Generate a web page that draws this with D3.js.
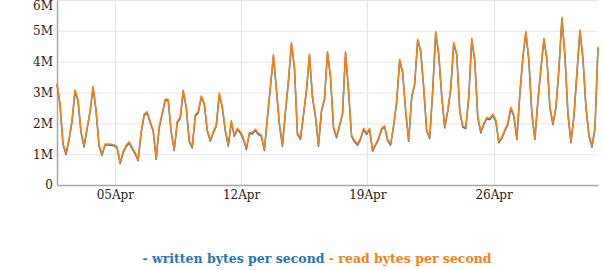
<!DOCTYPE html>
<html>
<head>
<meta charset="utf-8">
<script src="https://cdn.jsdelivr.net/npm/d3@7"></script>
<style>
  body { margin: 0; background: #fff; }
  svg { display: block; }
  .tick text { font-family: "DejaVu Serif", serif; font-size: 12px; fill: #222; }
</style>
</head>
<body>
<svg id="chart" width="603" height="270"></svg>
<script>
// 4-hourly samples, Apr 1 19:00 -> May 1 19:00, values in MB/s
const startTime = new Date(2024, 3, 1, 19);
const stepHours = 4;

const readBytes = [
  3.30, 2.65, 1.35, 1.03, 1.50, 2.10, 3.08, 2.76, 1.73, 1.27, 1.85, 2.40, 3.20, 2.43, 1.30, 1.00,
  1.33, 1.33, 1.32, 1.30, 1.24, 0.73, 1.08, 1.28, 1.40, 1.22, 1.05, 0.83, 1.73, 2.30, 2.38, 2.06,
  1.79, 0.87, 1.90, 2.33, 2.78, 2.78, 1.73, 1.16, 2.06, 2.20, 3.08, 2.54, 1.44, 1.24, 2.27, 2.38,
  2.89, 2.65, 1.79, 1.46, 1.73, 1.95, 2.98, 2.54, 1.79, 1.30, 2.09, 1.62, 1.84, 1.73, 1.52, 1.19,
  1.70, 1.70, 1.81, 1.68, 1.62, 1.16, 2.22, 3.20, 4.22, 3.14, 2.00, 1.30, 2.40, 3.40, 4.62, 3.84,
  1.68, 1.52, 2.30, 3.10, 4.25, 2.87, 2.24, 1.30, 2.43, 2.81, 4.33, 3.52, 1.89, 1.57, 1.95, 2.33,
  4.33, 3.08, 1.62, 1.44, 1.33, 1.52, 1.84, 1.68, 1.84, 1.14, 1.33, 1.52, 1.84, 1.92, 1.48, 1.33,
  1.95, 2.71, 4.08, 3.68, 2.44, 1.46, 2.87, 3.30, 4.73, 4.38, 3.19, 1.79, 1.55, 3.08, 4.98, 4.27,
  2.92, 1.89, 2.43, 3.14, 4.62, 4.27, 2.43, 1.92, 1.87, 2.87, 4.76, 4.06, 2.22, 1.73, 2.00, 2.19,
  2.16, 2.30, 2.11, 1.41, 1.55, 1.79, 2.00, 2.52, 2.27, 1.52, 2.98, 4.17, 4.98, 4.06, 2.33, 1.52,
  2.76, 3.79, 4.76, 4.11, 2.54, 2.00, 2.54, 3.79, 5.44, 4.22, 2.33, 1.41, 2.27, 3.68, 5.03, 4.11,
  2.54, 1.62, 1.27, 1.89, 4.49
];

const writtenBytes = [
  3.26, 2.60, 1.31, 0.99, 1.46, 2.05, 3.04, 2.72, 1.69, 1.23, 1.81, 2.36, 3.16, 2.39, 1.26, 0.96,
  1.30, 1.30, 1.29, 1.27, 1.20, 0.69, 1.04, 1.24, 1.36, 1.18, 1.01, 0.79, 1.68, 2.25, 2.34, 2.02,
  1.75, 0.83, 1.85, 2.28, 2.74, 2.74, 1.69, 1.12, 2.01, 2.16, 3.03, 2.50, 1.40, 1.20, 2.22, 2.34,
  2.85, 2.61, 1.75, 1.42, 1.69, 1.91, 2.93, 2.50, 1.75, 1.26, 2.04, 1.58, 1.80, 1.69, 1.48, 1.15,
  1.66, 1.66, 1.77, 1.64, 1.58, 1.12, 2.17, 3.15, 4.17, 3.10, 1.96, 1.26, 2.35, 3.35, 4.57, 3.80,
  1.64, 1.48, 2.25, 3.05, 4.20, 2.83, 2.20, 1.26, 2.38, 2.77, 4.28, 3.48, 1.85, 1.53, 1.91, 2.29,
  4.28, 3.04, 1.58, 1.40, 1.29, 1.48, 1.80, 1.64, 1.80, 1.10, 1.29, 1.48, 1.80, 1.88, 1.44, 1.29,
  1.91, 2.66, 4.03, 3.64, 2.40, 1.42, 2.82, 3.25, 4.68, 4.34, 3.15, 1.75, 1.51, 3.03, 4.93, 4.23,
  2.88, 1.85, 2.38, 3.09, 4.57, 4.23, 2.39, 1.88, 1.83, 2.82, 4.71, 4.02, 2.18, 1.69, 1.96, 2.15,
  2.12, 2.26, 2.07, 1.37, 1.51, 1.75, 1.96, 2.47, 2.23, 1.48, 2.93, 4.12, 4.93, 4.02, 2.29, 1.48,
  2.71, 3.74, 4.71, 4.07, 2.50, 1.96, 2.49, 3.74, 5.39, 4.18, 2.29, 1.37, 2.22, 3.63, 4.98, 4.07,
  2.50, 1.58, 1.23, 1.84, 4.44
];

const yTicks = [0, 1, 2, 3, 4, 5, 6];
const xTickDays = ["2024-04-05", "2024-04-12", "2024-04-19", "2024-04-26"];
const seriesNames = ["written bytes per second", "read bytes per second"];
const seriesColors = ["#1f77b4", "#ff7f0e"];

const svg = d3.select("#chart");
const plotLeft = 57, plotRight = 598, plotTop = 0, plotBottom = 185;

const times = readBytes.map((_, i) => d3.timeHour.offset(startTime, i * stepHours));
const parseDay = d3.timeParse("%Y-%m-%d");
const xTicks = xTickDays.map(parseDay);

const x = d3.scaleTime()
  .domain(d3.extent(times))
  .range([plotLeft, plotRight]);

const y = d3.scaleLinear()
  .domain([0, 6])
  .range([plotBottom, plotTop]);

// grid
svg.append("g")
  .selectAll("line")
  .data(yTicks.slice(1))
  .join("line")
  .attr("x1", plotLeft).attr("x2", plotRight)
  .attr("y1", d => y(d) + 0.5).attr("y2", d => y(d) + 0.5)
  .attr("stroke", "#e6e6e6");

svg.append("g")
  .selectAll("line")
  .data(xTicks)
  .join("line")
  .attr("x1", d => Math.round(x(d)) + 0.5).attr("x2", d => Math.round(x(d)) + 0.5)
  .attr("y1", plotTop).attr("y2", plotBottom)
  .attr("stroke", "#e6e6e6");

// axes
const yAxis = svg.append("g")
  .attr("transform", `translate(${plotLeft},0)`)
  .call(d3.axisLeft(y).tickValues(yTicks).tickSize(0).tickPadding(4)
    .tickFormat(d => d === 0 ? "0" : d + "M"));
yAxis.select(".domain").attr("stroke", "#a8a8a8").attr("stroke-width", 1.5);
yAxis.selectAll(".tick")
  .filter(d => d === 6)
  .select("text")
  .attr("y", 6);

const xAxis = svg.append("g")
  .attr("transform", `translate(0,${plotBottom})`)
  .call(d3.axisBottom(x).tickValues(xTicks).tickSize(0).tickPadding(5)
    .tickFormat(d3.timeFormat("%d%b")));
xAxis.select(".domain").attr("stroke", "#a8a8a8").attr("stroke-width", 1.5);

// lines
const line = d3.line()
  .x((d, i) => x(times[i]))
  .y(d => y(d));

svg.selectAll(".series")
  .data([writtenBytes, readBytes])
  .join("path")
  .attr("class", "series")
  .attr("d", line)
  .attr("fill", "none")
  .attr("stroke", (d, i) => seriesColors[i])
  .attr("stroke-width", 1.5)
  .attr("stroke-linejoin", "round");

// legend
const legend = svg.append("text")
  .attr("x", 317)
  .attr("y", 263)
  .attr("text-anchor", "middle")
  .style("font-family", "'DejaVu Serif', serif")
  .style("font-size", "12.5px")
  .style("font-weight", "bold");

legend.selectAll("tspan")
  .data(seriesNames)
  .join("tspan")
  .attr("fill", (d, i) => seriesColors[i])
  .text((d, i) => (i ? " - " : "- ") + d);
</script>
</body>
</html>
